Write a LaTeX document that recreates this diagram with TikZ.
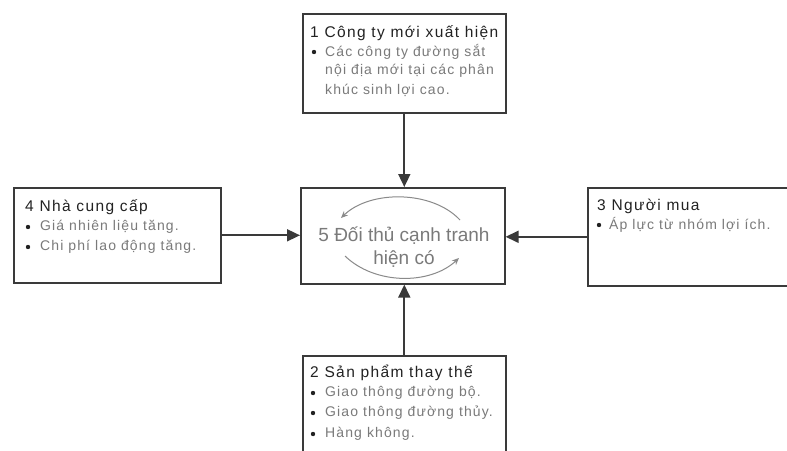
\documentclass[tikz,border=0pt]{standalone}
\usepackage{fontspec}
\setmainfont{Liberation Sans}
\newfontfamily\spaced[LetterSpace=8]{Liberation Sans}
\newfontfamily\spacedhead[LetterSpace=9]{Liberation Sans}
\usetikzlibrary{arrows.meta}
\definecolor{framec}{HTML}{3A3A3A}
\definecolor{headc}{HTML}{222222}
\definecolor{bodyc}{HTML}{7A7A7A}
\definecolor{arcc}{HTML}{8A8A8A}
\begin{document}
\begin{tikzpicture}[x=1pt,y=-1pt,
  panel/.style={draw=framec,line width=1.6pt,fill=white,anchor=north west,
    inner sep=0pt,rectangle},
  head/.style={anchor=west,inner sep=0pt,text=headc,font=\spacedhead\fontsize{15.5}{17}\selectfont},
  item/.style={anchor=west,inner sep=0pt,text=bodyc,font=\spaced\fontsize{14}{16}\selectfont},
  dot/.style={circle,fill=headc,inner sep=0pt,minimum size=4.4pt},
  force/.style={draw=framec,line width=1.7pt,-{Triangle[length=13pt,width=12pt]}},
  turn/.style={draw=arcc,line width=1pt,-{Stealth[length=7pt,width=6pt]}}]
\clip (0,0) rectangle (787,450);
\fill[white] (0,0) rectangle (787,450);

% the five boxes
\node[panel,minimum width=203pt,minimum height=99pt] (entry) at (302,13) {};
\node[panel,minimum width=204pt,minimum height=96pt] (rival) at (300,187) {};
\node[panel,minimum width=207pt,minimum height=95pt] (supplier) at (13,187) {};
\node[panel,minimum width=230pt,minimum height=98pt] (buyer) at (587,187) {};
\node[panel,minimum width=203pt,minimum height=110pt] (subst) at (302,355) {};

% forces acting on the existing rivals
\draw[force] (entry.south) -- (entry.south |- rival.north);
\draw[force] (subst.north) -- (subst.north |- rival.south);
\draw[force] (supplier.east) -- (supplier.east -| rival.west);
\draw[force] (buyer.west) -- (buyer.west -| rival.east);

% 1 new entrants
\node[head] (h1) at (310,33) {1 Công ty mới xuất hiện};
\node[dot] (d1) at (314,52) {};
\node[item] (t1a) at (325,52) {Các công ty đường sắt};
\node[item] (t1b) at (325,71) {nội địa mới tại các phân};
\node[item] (t1c) at (325,90) {khúc sinh lợi cao.};

% 4 suppliers
\node[head] (h4) at (25,207) {4 Nhà cung cấp};
\node[dot] (d4a) at (28,227) {};
\node[item] (t4a) at (40,227) {Giá nhiên liệu tăng.};
\node[dot] (d4b) at (28,247) {};
\node[item] (t4b) at (40,247) {Chi phí lao động tăng.};

% 3 buyers
\node[head] (h3) at (597,206) {3 Người mua};
\node[dot] (d3) at (599,225) {};
\node[item] (t3) at (609,225) {Áp lực từ nhóm lợi ích.};

% 2 substitutes
\node[head] (h2) at (310,373) {2 Sản phẩm thay thế};
\node[dot] (d2a) at (313,393) {};
\node[item] (t2a) at (325,393) {Giao thông đường bộ.};
\node[dot] (d2b) at (313,413) {};
\node[item] (t2b) at (325,413) {Giao thông đường thủy.};
\node[dot] (d2c) at (313,434) {};
\node[item] (t2c) at (325,434) {Hàng không.};

% 5 existing rivalry with its circling arrows
\node[text=bodyc,font=\fontsize{19}{23}\selectfont,align=center,inner sep=0pt]
  (t5) at (404,247) {5 Đối thủ cạnh tranh\\hiện có};
\draw[turn] (460,220) .. controls (432,190) and (370,190) .. (341,218);
\draw[turn] (345,256) .. controls (375,285) and (430,285) .. (459,258);
\end{tikzpicture}
\end{document}
